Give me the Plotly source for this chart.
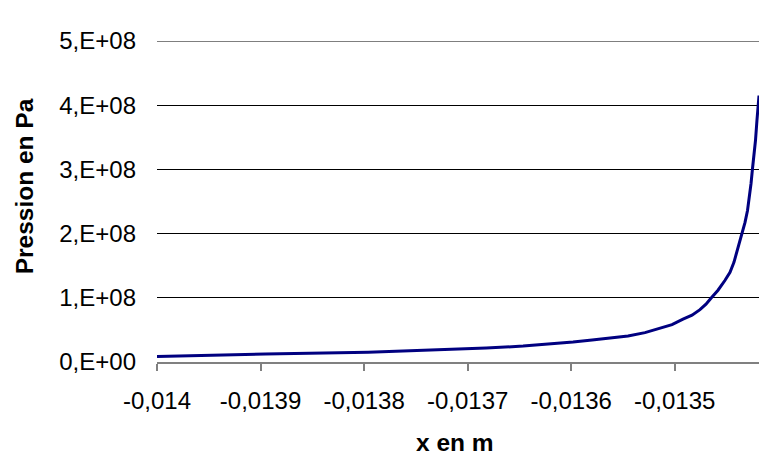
import plotly.graph_objects as go

# Position x (m) and pressure (Pa) along the profile
x_m = [
    -0.0140000, -0.0139814, -0.0138955, -0.0137960, -0.0137294, -0.0136821,
    -0.0136464, -0.0136194, -0.0135982, -0.0135798, -0.0135624, -0.0135451,
    -0.0135287, -0.0135142, -0.0135026, -0.0134920, -0.0134833, -0.0134756,
    -0.0134698, -0.0134650, -0.0134582, -0.0134514, -0.0134466, -0.0134428,
    -0.0134389, -0.0134350, -0.0134321, -0.0134297, -0.0134278, -0.0134263,
    -0.0134249, -0.0134235, -0.0134220, -0.0134206, -0.0134196, -0.0134186,
]
pression_pa = [
    8.5e6, 9.3e6, 1.24e7, 1.51e7, 1.86e7, 2.17e7,
    2.48e7, 2.80e7, 3.11e7, 3.42e7, 3.68e7, 4.04e7,
    4.58e7, 5.28e7, 5.82e7, 6.68e7, 7.30e7, 8.15e7,
    9.00e7, 9.94e7, 1.118e8, 1.273e8, 1.398e8, 1.553e8,
    1.770e8, 1.988e8, 2.174e8, 2.360e8, 2.567e8, 2.780e8,
    3.010e8, 3.210e8, 3.450e8, 3.760e8, 3.990e8, 4.150e8,
]

x_tick_vals = [-0.014, -0.0139, -0.0138, -0.0137, -0.0136, -0.0135]
x_tick_text = ["-0,014", "-0,0139", "-0,0138", "-0,0137", "-0,0136", "-0,0135"]
y_tick_vals = [0, 1e8, 2e8, 3e8, 4e8, 5e8]
y_tick_text = ["0,E+00", "1,E+08", "2,E+08", "3,E+08", "4,E+08", "5,E+08"]

FONT = "Liberation Sans, Arial, sans-serif"

fig = go.Figure()
fig.add_trace(go.Scatter(
    x=x_m, y=pression_pa, mode="lines",
    line=dict(color="#000080", width=3),
    showlegend=False, hoverinfo="skip",
))

# gridline on the top edge of the value axis
fig.add_shape(type="line", xref="paper", yref="y",
              x0=0, x1=1, y0=y_tick_vals[-1], y1=y_tick_vals[-1],
              line=dict(color="#000000", width=1), layer="below")

fig.update_layout(
    width=759, height=459,
    margin=dict(l=157, r=0, t=41, b=97),
    paper_bgcolor="white", plot_bgcolor="white",
    font=dict(family=FONT, size=24, color="black"),
    xaxis=dict(
        range=[-0.014, -0.0134186],
        tickvals=x_tick_vals, ticktext=x_tick_text,
        showgrid=False, zeroline=False,
        showline=True, linecolor="#808080", linewidth=1.5,
        ticks="outside", ticklen=7, tickcolor="#808080", tickwidth=1.5,
        ticklabelstandoff=9,
        tickfont=dict(family=FONT, size=24, color="black"),
    ),
    yaxis=dict(
        range=[0, 5e8],
        tickvals=y_tick_vals, ticktext=y_tick_text,
        showgrid=True, gridcolor="#000000", gridwidth=1,
        zeroline=False, showline=False, ticks="",
        ticklabelstandoff=20,
        tickfont=dict(family=FONT, size=24, color="black"),
    ),
    annotations=[
        dict(text="<b>x en m</b>", xref="paper", yref="paper",
             x=0.495, y=-0.252, xanchor="center", yanchor="middle",
             showarrow=False, font=dict(family=FONT, size=24.5, color="black")),
        dict(text="<b>Pression en Pa</b>", xref="paper", yref="paper",
             x=-0.221, y=0.547, xanchor="center", yanchor="middle", textangle=-90,
             showarrow=False, font=dict(family=FONT, size=24.5, color="black")),
    ],
)

fig.write_html("out.html")
